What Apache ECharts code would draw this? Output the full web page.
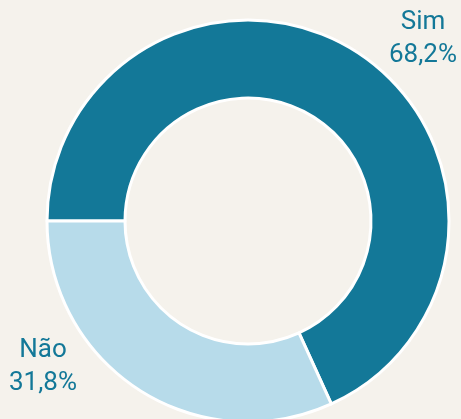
<!DOCTYPE html>
<html>
<head>
<meta charset="utf-8">
<script src="https://cdn.jsdelivr.net/npm/echarts@6/dist/echarts.min.js"></script>
<style>
  html, body { margin: 0; padding: 0; background: #f5f2ec; }
  #chart { width: 461px; height: 419px; }
</style>
</head>
<body>
<div id="chart"></div>
<script>
// dados do gráfico
const categories = ['Sim', 'Não'];
const values = [68.2, 31.8];
const colors = ['#137898', '#b7dbea'];

// posição dos rótulos (centro do texto)
const labelPos = [
  { x: 423, y: 39 },
  { x: 43, y: 367 }
];

const myChart = echarts.init(document.getElementById('chart'));

myChart.setOption({
  backgroundColor: '#f5f2ec',
  animation: false,
  series: [
    {
      type: 'pie',
      center: [248, 221],
      radius: [123, 201],
      startAngle: 180,
      clockwise: true,
      data: categories.map((c, i) => ({
        name: c,
        value: values[i],
        itemStyle: { color: colors[i] }
      })),
      itemStyle: { borderColor: '#ffffff', borderWidth: 3 },
      label: {
        show: true,
        position: 'outside',
        color: '#137898',
        fontFamily: 'Roboto',
        fontSize: 26,
        lineHeight: 33,
        align: 'center',
        overflow: 'none',
        formatter: p => p.name + '\n' + p.value.toFixed(1).replace('.', ',') + '%'
      },
      labelLine: { show: false },
      labelLayout: p => ({
        x: labelPos[p.dataIndex].x,
        y: labelPos[p.dataIndex].y,
        align: 'center',
        verticalAlign: 'middle',
        fontSize: 26
      }),
      emphasis: { disabled: true }
    }
  ]
});
</script>
</body>
</html>
